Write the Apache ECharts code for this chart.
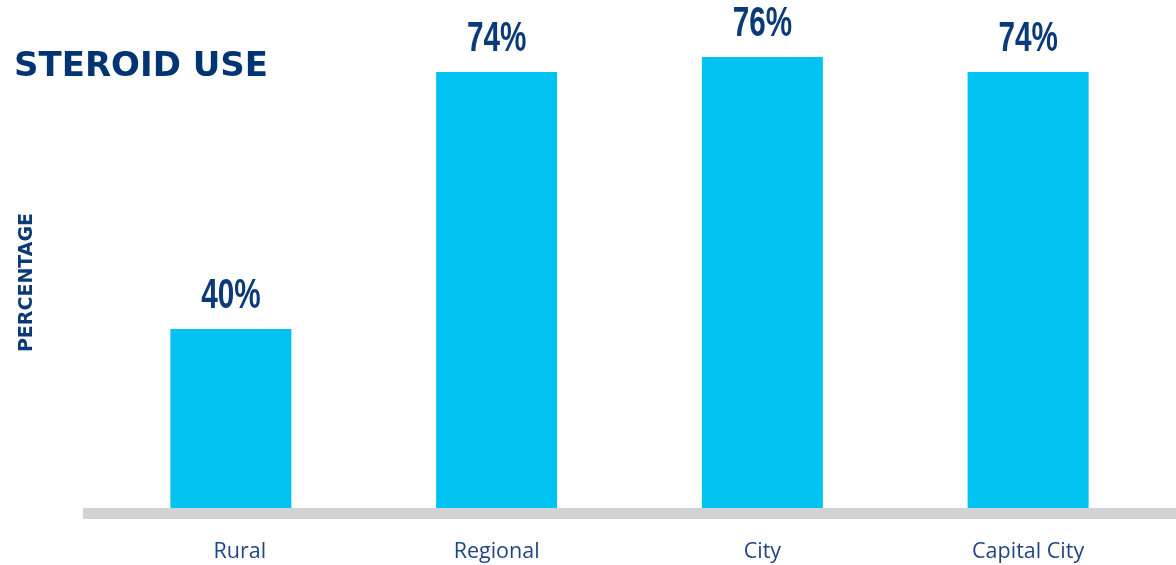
<!DOCTYPE html>
<html>
<head>
<meta charset="utf-8">
<title>Steroid use</title>
<script src="https://cdn.jsdelivr.net/npm/echarts@6/dist/echarts.min.js"></script>
<style>
  html, body { margin: 0; padding: 0; background: #ffffff; }
  #chart { width: 1176px; height: 565px; }
</style>
</head>
<body>
<div id="chart"></div>
<script>
// Share of respondents using steroids, by location type
const categories = ['Rural', 'Regional', 'City', 'Capital City'];
const steroidUse = [40, 74, 76, 74];
const chartTitle = 'STEROID USE';
const yAxisName = 'PERCENTAGE';

const NAVY = '#0b3a78';
const BAR = '#00c3f2';
const AXIS_GREY = '#d1d2d4';

const chart = echarts.init(document.getElementById('chart'));

// Value labels above each bar, set in a narrowed bold face
function renderValueLabel(params, api) {
  const value = api.value(1);
  const pt = api.coord([api.value(0), value]);
  return {
    type: 'text',
    x: pt[0],
    y: pt[1] - 11,
    scaleX: 0.69,
    style: {
      text: value + '%',
      fontFamily: 'Liberation Sans',
      fontWeight: 'bold',
      fontSize: 43,
      fill: NAVY,
      align: 'center',
      verticalAlign: 'bottom'
    }
  };
}

chart.setOption({
  animation: false,
  backgroundColor: '#ffffff',
  title: {
    text: chartTitle,
    left: 9,
    top: 45,
    textStyle: {
      fontFamily: 'DejaVu Sans',
      fontWeight: 'bold',
      fontSize: 34,
      color: '#003473'
    }
  },
  grid: [
    { left: 98, right: 15, top: 57, bottom: 57 },
    // baseline strip running the full width under the bars
    { left: 83, right: 0, top: 500, bottom: 51.5 }
  ],
  xAxis: [
    {
      type: 'category',
      gridIndex: 0,
      data: categories.map((c, i) => i === 0
        ? { value: c, textStyle: { padding: [0, 0, 0, 18] } }
        : c),
      axisLine: { show: false },
      axisTick: { show: false },
      axisLabel: {
        margin: 33,
        fontFamily: 'Open Sans',
        fontSize: 21.5,
        color: '#1f4682'
      }
    },
    {
      type: 'value',
      gridIndex: 1,
      min: 0,
      max: 1,
      axisLine: { show: true, lineStyle: { color: AXIS_GREY, width: 11, cap: 'butt' } },
      axisTick: { show: false },
      axisLabel: { show: false },
      splitLine: { show: false }
    }
  ],
  yAxis: [
    {
      type: 'value',
      gridIndex: 0,
      min: 16.3,
      max: 76,
      name: yAxisName,
      nameLocation: 'middle',
      nameGap: 61,
      nameRotate: 90,
      nameTextStyle: {
        fontFamily: 'DejaVu Sans',
        fontWeight: 'bold',
        fontSize: 19,
        color: NAVY
      },
      axisLine: { show: false },
      axisTick: { show: false },
      axisLabel: { show: false },
      splitLine: { show: false }
    },
    {
      type: 'value',
      gridIndex: 1,
      show: false
    }
  ],
  series: [
    {
      type: 'bar',
      xAxisIndex: 0,
      yAxisIndex: 0,
      data: steroidUse,
      barWidth: 121,
      itemStyle: { color: BAR }
    },
    {
      type: 'custom',
      xAxisIndex: 0,
      yAxisIndex: 0,
      data: steroidUse.map((v, i) => [i, v]),
      renderItem: renderValueLabel,
      silent: true,
      z: 5
    }
  ]
});
</script>
</body>
</html>
